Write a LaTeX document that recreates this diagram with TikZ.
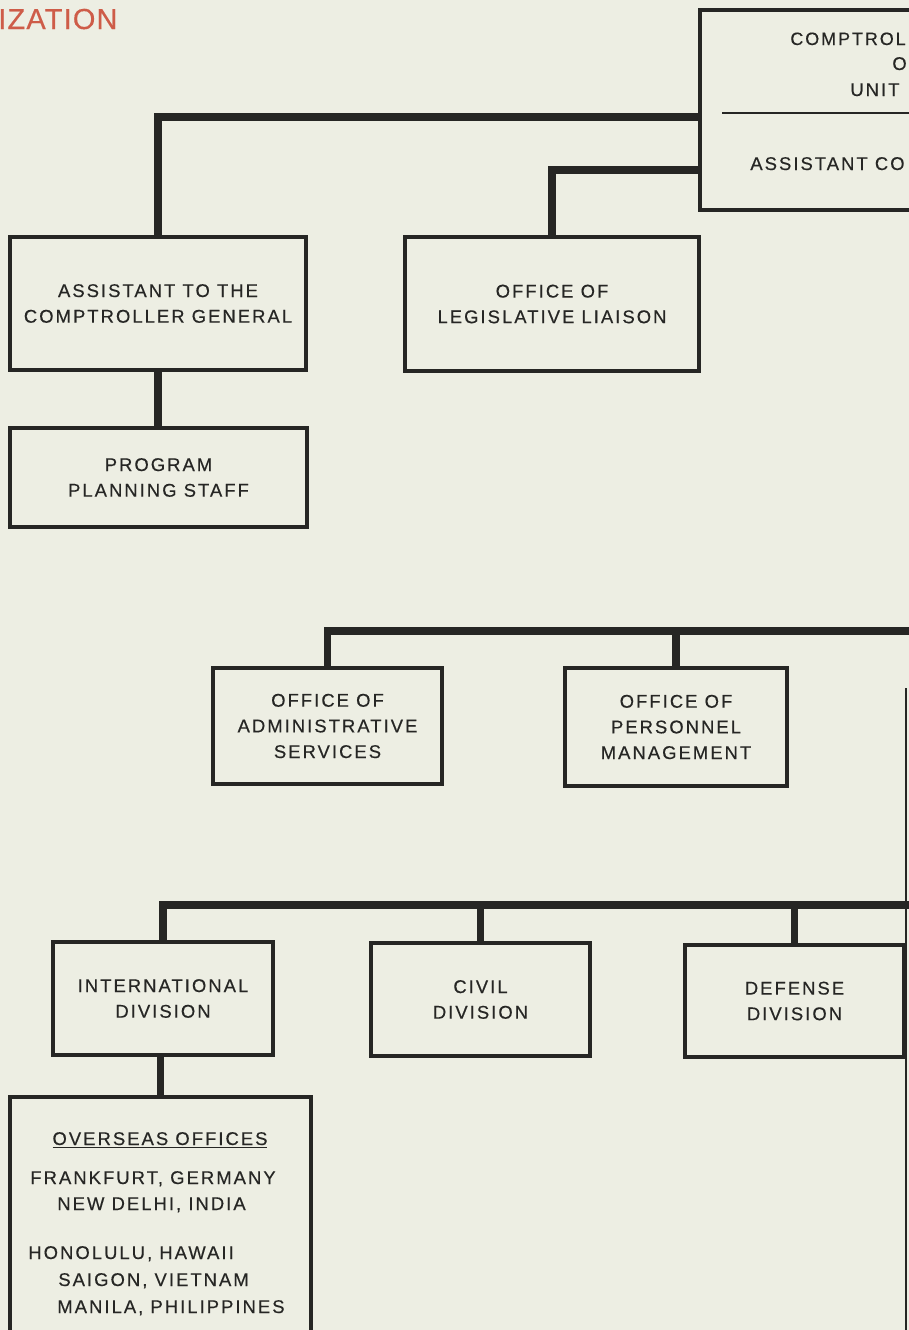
\documentclass[tikz,border=0pt]{standalone}
\usepackage{fontspec}
\setmainfont{Liberation Sans}[LetterSpace=11, FakeBold=0.4]
\usetikzlibrary{positioning}
\definecolor{paper}{RGB}{237,238,227}
\definecolor{ink}{RGB}{38,38,36}
\definecolor{titlered}{RGB}{206,92,72}
\begin{document}
\begin{tikzpicture}[
    x=0.02cm, y=-0.02cm,
    every node/.style={align=center, text=ink},
    unit/.style={rectangle, draw=ink, line width=2pt, inner sep=0pt, font=\fontsize{10.5}{14.6}\selectfont},
    label/.style={inner sep=0pt, anchor=base west, font=\fontsize{10.5}{14.6}\selectfont},
    link/.style={draw=ink, line width=4.4pt}
]
    % Page and clip
    \fill[paper] (0,0) rectangle (909,1330);
    \useasboundingbox (0,0) rectangle (909,1330);
    \clip (0,0) rectangle (909,1330);

    % Title
    \node[anchor=base west, inner sep=0pt, text=titlered, font=\fontsize{16.5}{18}\selectfont\addfontfeature{LetterSpace=4}] (title) at (-2,29) {IZATION};

    % Head box
    \node[unit, minimum width=6cm, minimum height=4cm] (head) at (850,110) {};
    \draw[ink, line width=1.3pt] (722,113) -- (head.east |- 0,113);
    \node[label, font=\fontsize{10.2}{14.6}\selectfont] (head1) at (790,45) {COMPTROL};
    \node[label] (head2) at (892,70) {O};
    \node[label] (head3) at (850,96) {UNIT};
    \node[label] (head4) at (750,170) {ASSISTANT CO};
    \coordinate (j1) at (head.west |- 0,117);
    \coordinate (j2) at (head.west |- 0,170);

    % Staff offices
    \node[unit, minimum width=5.92cm, minimum height=2.66cm] (asst) at (158,303.5) {ASSISTANT TO THE\\COMPTROLLER GENERAL};
    \node[unit, minimum width=5.88cm, minimum height=2.68cm] (legis) at (552,304) {OFFICE OF\\LEGISLATIVE LIAISON};
    \node[unit, minimum width=5.94cm, minimum height=1.98cm] (plan) at (158.5,477.5) {PROGRAM\\PLANNING STAFF};

    % Administrative offices
    \node[unit, minimum width=4.58cm, minimum height=2.32cm] (admin) at (327.5,726) {OFFICE OF\\ADMINISTRATIVE\\SERVICES};
    \node[unit, minimum width=4.44cm, minimum height=2.36cm] (pers) at (676,727) {OFFICE OF\\PERSONNEL\\MANAGEMENT};
    \coordinate (e3) at (915,631);

    % Divisions
    \node[unit, minimum width=4.4cm, minimum height=2.26cm] (intl) at (163,998.5) {INTERNATIONAL\\DIVISION};
    \node[unit, minimum width=4.38cm, minimum height=2.26cm] (civil) at (480.5,999.5) {CIVIL\\DIVISION};
    \node[unit, minimum width=4.38cm, minimum height=2.24cm] (defense) at (794.5,1001) {DEFENSE\\DIVISION};
    \coordinate (e4) at (915,905);

    % Overseas offices
    \node[unit, minimum width=6.02cm, minimum height=5.26cm] (overseas) at (160.5,1228.5) {};
    \node[label, anchor=base] (ov0) at (160,1145) {\underline{OVERSEAS OFFICES}};
    \node[label] (ov1) at (30,1184) {FRANKFURT, GERMANY};
    \node[label] (ov2) at (57,1210) {NEW DELHI, INDIA};
    \node[label] (ov3) at (28,1259) {HONOLULU, HAWAII};
    \node[label] (ov4) at (58,1286) {SAIGON, VIETNAM};
    \node[label] (ov5) at (57,1313) {MANILA, PHILIPPINES};

    % Page edge
    \coordinate (g1) at (906,688);
    \coordinate (g2) at (906,1330);
    \draw[ink, line width=1.3pt] (g1) -- (g2);

    % Connections
    \draw[link] (j1) -| (asst.north);
    \draw[link] (j2) -| (legis.north);
    \draw[link] (asst.south) -- (asst.south |- plan.north);
    \draw[link] (e3) -| (admin.north);
    \draw[link] (pers.north) -- (pers.north |- e3);
    \draw[link] (e4) -| (intl.north);
    \draw[link] (civil.north) -- (civil.north |- e4);
    \draw[link] (defense.north) -- (defense.north |- e4);
    \draw[link] (overseas.north) -- (overseas.north |- intl.south);
\end{tikzpicture}
\end{document}
